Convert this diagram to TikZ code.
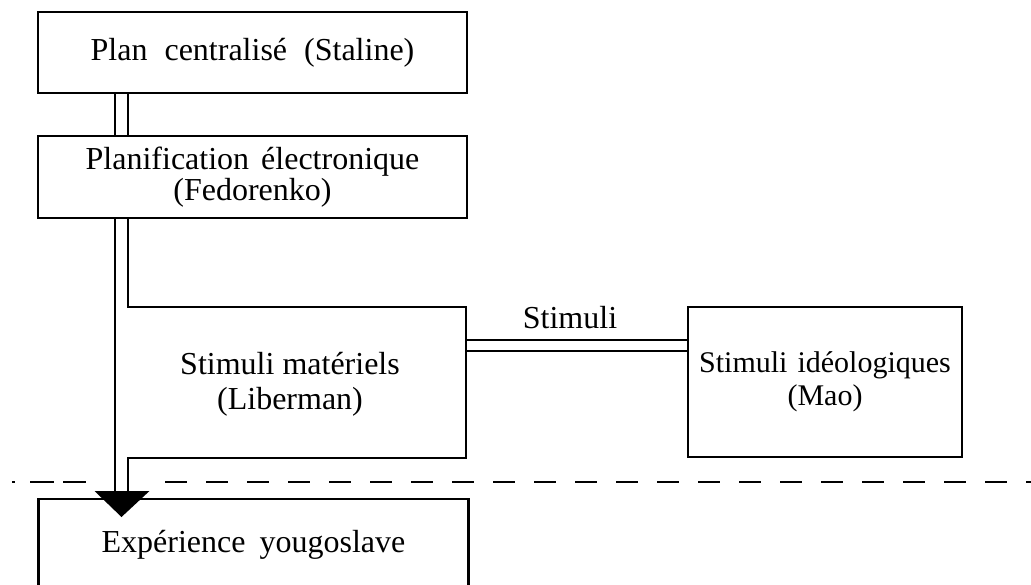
\documentclass[tikz,border=0pt]{standalone}
\usepackage{fontspec}
\setmainfont{Liberation Serif}
\usetikzlibrary{calc}
\begin{document}
\begin{tikzpicture}[x=1pt,y=-1pt,
  ln/.style={line width=2.2pt},
  box/.style={draw, line width=2.2pt, inner sep=0pt, align=center,
    font=\fontsize{32}{31}\selectfont},
  txt/.style={inner sep=0pt, align=center, font=\fontsize{32}{35}\selectfont},
  dashline/.style={line width=2.6pt, dash pattern=on 22pt off 19pt}]
\useasboundingbox (0,0) rectangle (1031,584);
\clip (0,0) rectangle (1031,584);

% boxes
\node[box, minimum width=429pt, minimum height=81pt] (stal) at (252.5,52.5) {Plan\hspace{17pt}centralisé\hspace{17pt}(Staline)};
\node[box, minimum width=429pt, minimum height=82pt] (fed) at (252.5,177) {Planification\hspace{12pt}électronique\\(Fedorenko)};
\node[txt] (lib) at (290,384) {Stimuli matériels\\(Liberman)};
\node[box, minimum width=274pt, minimum height=150pt, font=\fontsize{30}{33}\selectfont] (mao) at (825,382) {Stimuli\hspace{10pt}idéologiques\\(Mao)};
\node[box, minimum width=430pt, minimum height=92pt] (yougo) at (253.5,545) {Expérience\hspace{14pt}yougoslave};
\node[txt] (stim) at (570,318) {Stimuli};

% guide coordinates
\coordinate (xl) at (115,0);
\coordinate (xr) at (128,0);
\coordinate (libNE) at (466,307);
\coordinate (libSE) at (466,458);
\coordinate (ab) at (121.5,491);
\coordinate (tip) at (121.5,517);

% double link Staline -> Fedorenko
\draw[ln] (stal.south -| xl) -- (fed.north -| xl);
\draw[ln] (stal.south -| xr) -- (fed.north -| xr);

% double link Fedorenko -> Yougoslave, right line forms the Liberman box
\draw[ln] (fed.south -| xl) -- (xl |- ab);
\draw[ln] (fed.south -| xr) |- (libNE) -- (libSE) -| (xr |- ab);

% arrow head
\fill ($(ab)+(-27,0)$) -- ($(ab)+(28,0)$) -- (tip) -- cycle;

% Stimuli double link
\draw[ln] (libNE |- 0,340) -- (mao.west |- 0,340);
\draw[ln] (libNE |- 0,351) -- (mao.west |- 0,351);

% dashed frontier
\coordinate (d0) at (12,482);
\coordinate (d1) at (30,482);
\coordinate (d2) at (86,482);
\coordinate (d3) at (165,482);
\coordinate (d4) at (1031,482);
\draw[line width=2.6pt] (d0) -- ++(3,0);
\draw[line width=2.6pt, dash pattern=on 24pt off 9pt] (d1) -- (d2);
\draw[dashline] (d3) -- (d4);
\end{tikzpicture}
\end{document}
